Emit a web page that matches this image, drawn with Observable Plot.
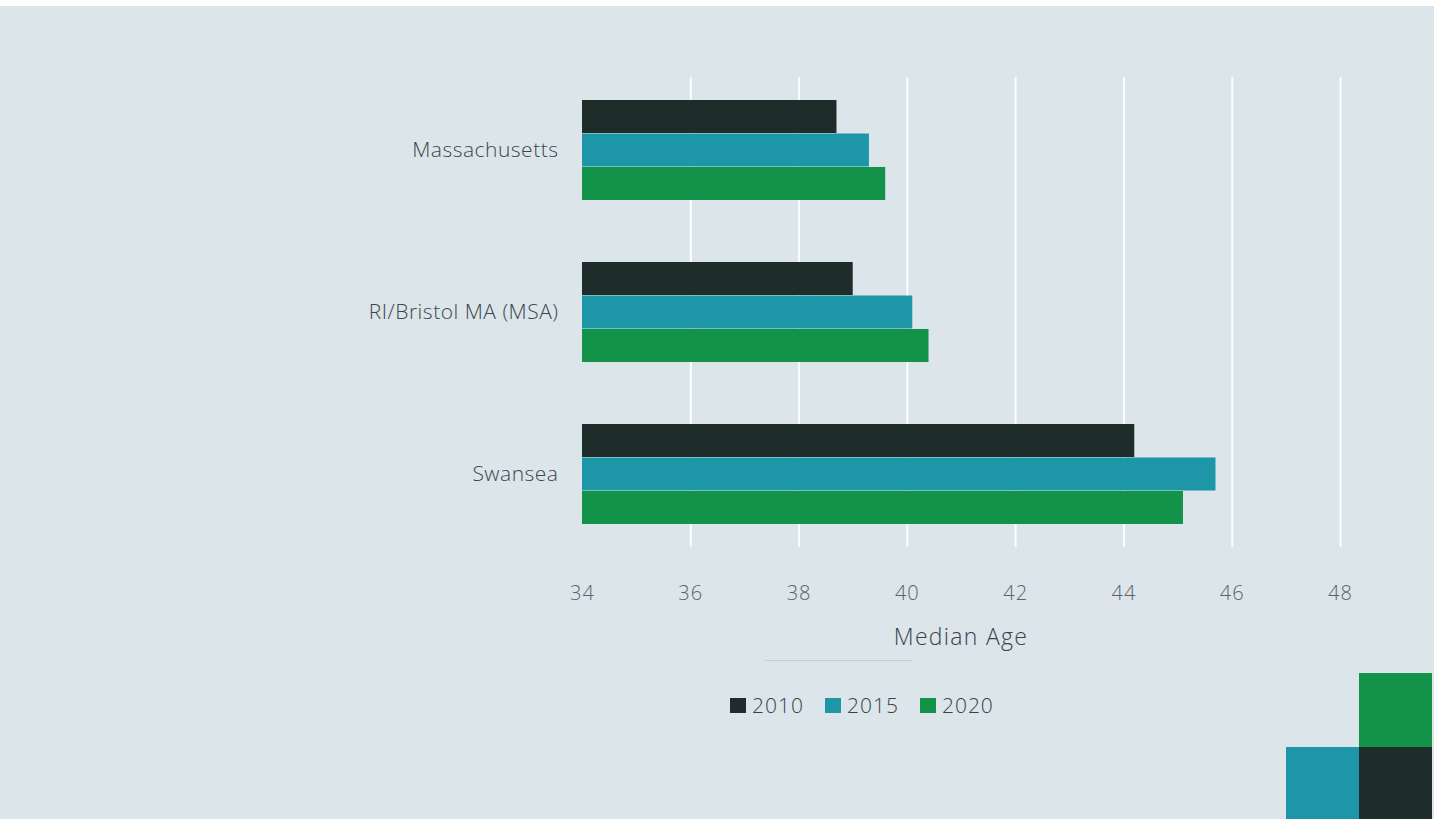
<!DOCTYPE html>
<html>
<head>
<meta charset="utf-8">
<script src="https://cdn.jsdelivr.net/npm/d3@7"></script>
<script src="https://cdn.jsdelivr.net/npm/@observablehq/plot@0.6"></script>
<style>
  html, body { margin: 0; padding: 0; background: #ffffff; }
  #page { position: relative; width: 1447px; height: 819px; overflow: hidden; background: #ffffff;
          font-family: "Open Sans", sans-serif; }
  #panel { position: absolute; left: 0; top: 6px; width: 1434px; height: 813px; background: #dbe5ea; }
  #chart { position: absolute; left: 0; top: 0; }
  #chart svg text { font-family: "Open Sans", sans-serif; font-weight: 300; }
  #chart svg g[aria-label="x-axis tick label"] text { letter-spacing: 1px; }
  #chart svg g[aria-label="y-axis tick label"] text { letter-spacing: 0.5px; }
  #xtitle { position: absolute; left: 861px; width: 200px; top: 620px; height: 32px; line-height: 32px;
            text-align: center; font-size: 23px; font-weight: 300; letter-spacing: 1.3px; color: #37434a; }
  #divider { position: absolute; left: 765px; top: 660px; width: 148px; height: 1px; background: #c5d0d5; }
  #legend { position: absolute; left: 730px; top: 692px; height: 26px; display: flex; align-items: center;
            font-size: 21px; font-weight: 300; letter-spacing: 1px; color: #36434a; }
  #legend .item { display: flex; align-items: center; margin-right: 21px; }
  #legend .sw { width: 16px; height: 15px; margin-right: 6px; }
  .corner { position: absolute; }
</style>
</head>
<body>
<div id="page">
  <div id="panel"></div>
  <div id="chart"></div>
  <div id="xtitle"></div>
  <div id="divider"></div>
  <div id="legend"></div>
</div>
<script>
// Median age by area and census year
const regions = ["Massachusetts", "RI/Bristol MA (MSA)", "Swansea"];
const years = ["2010", "2015", "2020"];
const age2010 = [38.7, 39.0, 44.2];
const age2015 = [39.3, 40.1, 45.7];
const age2020 = [39.6, 40.4, 45.1];
const xTicks = [34, 36, 38, 40, 42, 44, 46, 48];
const gridTicks = [36, 38, 40, 42, 44, 46, 48];
const yearColors = ["#1e2c2a", "#1d96a7", "#13934a"];
const axisTitle = "Median Age";

const seriesByYear = [age2010, age2015, age2020];
const rows = years.flatMap((year, j) =>
  regions.map((region, i) => ({ region, year, age: seriesByYear[j][i] }))
);

// Layout
const W = 1447, H = 620;
const mt = 77, mb = 73, ml = 582, mr = 107;
const padIn = 0.38, padOut = 0.14;
// each region band is split into three equal year rows
const band = (H - mt - mb) / (regions.length - padIn + 2 * padOut) * (1 - padIn);
const row = band / years.length;
const xMin = xTicks[0];

const barMarks = years.map((year, j) =>
  Plot.barX(rows.filter(d => d.year === year), {
    x1: () => xMin,
    x2: "age",
    y: "region",
    fill: yearColors[j],
    insetTop: j * row,
    insetBottom: (years.length - 1 - j) * row
  })
);

const chart = Plot.plot({
  width: W,
  height: H,
  marginTop: mt,
  marginBottom: mb,
  marginLeft: ml,
  marginRight: mr,
  style: { background: "transparent", overflow: "visible" },
  x: { domain: [xTicks[0], xTicks[xTicks.length - 1]] },
  y: { domain: regions, paddingInner: padIn, paddingOuter: padOut },
  marks: [
    Plot.ruleX(gridTicks, { stroke: "#ffffff", strokeWidth: 2, strokeOpacity: 0.9 }),
    ...barMarks,
    Plot.axisX(xTicks, { anchor: "bottom", tickSize: 0, tickPadding: 38, fontSize: 20,
                         fill: "#59646a", label: null }),
    Plot.axisY({ anchor: "left", tickSize: 0, tickPadding: 24, fontSize: 21,
                 fill: "#3b474d", label: null })
  ]
});
document.getElementById("chart").appendChild(chart);
document.getElementById("xtitle").textContent = axisTitle;

// Legend
const legend = document.getElementById("legend");
years.forEach((year, j) => {
  const item = document.createElement("div");
  item.className = "item";
  const sw = document.createElement("span");
  sw.className = "sw";
  sw.style.background = yearColors[j];
  const label = document.createElement("span");
  label.textContent = year;
  item.appendChild(sw);
  item.appendChild(label);
  legend.appendChild(item);
});

// Decorative colour blocks in the lower-right corner
const page = document.getElementById("page");
[
  { left: 1359, top: 673, w: 73, h: 74, c: yearColors[2] },
  { left: 1286, top: 747, w: 73, h: 72, c: yearColors[1] },
  { left: 1359, top: 747, w: 73, h: 72, c: yearColors[0] }
].forEach(b => {
  const d = document.createElement("div");
  d.className = "corner";
  Object.assign(d.style, { left: b.left + "px", top: b.top + "px", width: b.w + "px", height: b.h + "px", background: b.c });
  page.appendChild(d);
});
</script>
</body>
</html>
